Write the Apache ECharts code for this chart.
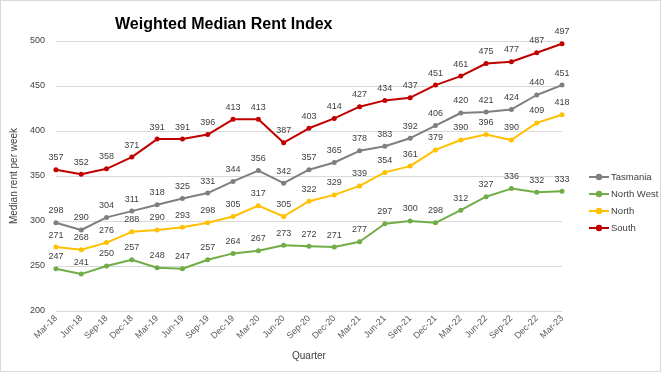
<!DOCTYPE html>
<html><head><meta charset="utf-8">
<script src="https://cdn.jsdelivr.net/npm/echarts@6/dist/echarts.min.js"></script>
<style>html,body{margin:0;padding:0;background:#fff}#c{width:659px;height:370px;border:1px solid #d9d9d9}</style>
</head><body><div id="c"></div>
<script>
const categories=['Mar-18','Jun-18','Sep-18','Dec-18','Mar-19','Jun-19','Sep-19','Dec-19','Mar-20','Jun-20','Sep-20','Dec-20','Mar-21','Jun-21','Sep-21','Dec-21','Mar-22','Jun-22','Sep-22','Dec-22','Mar-23'];
const tasmania=[298,290,304,311,318,325,331,344,356,342,357,365,378,383,392,406,420,421,424,440,451];
const northWest=[247,241,250,257,248,247,257,264,267,273,272,271,277,297,300,298,312,327,336,332,333];
const north=[271,268,276,288,290,293,298,305,317,305,322,329,339,354,361,379,390,396,390,409,418];
const south=[357,352,358,371,391,391,396,413,413,387,403,414,427,434,437,451,461,475,477,487,497];
const yTicks={min:200,max:500,interval:50};
const font='"Liberation Sans", Arial, sans-serif';
function s(name,data,color){return {name,type:'line',data,symbol:'circle',symbolSize:5,
  lineStyle:{width:2,color},itemStyle:{color},
  label:{show:true,position:'top',distance:5,fontSize:9,color:'#404040',fontFamily:font}};}
const chart=echarts.init(document.getElementById('c'));
chart.setOption({
  animation:false,
  title:{text:'Weighted Median Rent Index',left:109,top:11,textStyle:{fontSize:16,fontWeight:'bold',color:'#000',fontFamily:font}},
  grid:{left:51,right:98,top:40,bottom:60},
  legend:{orient:'vertical',left:582,top:166,itemGap:7,itemWidth:20,itemHeight:8,
    textStyle:{fontSize:9.5,color:'#404040',fontFamily:font,padding:[0,0,0,-3]},
    data:['Tasmania','North West','North','South']},
  xAxis:{type:'category',data:categories,boundaryGap:false,name:'Quarter',nameLocation:'middle',nameGap:40,
    nameTextStyle:{fontSize:10,color:'#404040',fontFamily:font},
    axisLine:{show:false},axisTick:{show:false},
    axisLabel:{rotate:45,fontSize:9,color:'#595959',fontFamily:font,margin:6,interval:0}},
  yAxis:{type:'value',min:yTicks.min,max:yTicks.max,interval:yTicks.interval,name:'Median rent per week',nameLocation:'middle',nameGap:28,
    nameTextStyle:{fontSize:10,color:'#404040',fontFamily:font},
    axisLabel:{fontSize:9,color:'#404040',fontFamily:font,margin:11},
    splitLine:{lineStyle:{color:'#d9d9d9',width:1}}},
  series:[s('Tasmania',tasmania,'#7f7f7f'),s('North West',northWest,'#70ad47'),s('North',north,'#ffc000'),s('South',south,'#c00000')]
});
</script></body></html>
